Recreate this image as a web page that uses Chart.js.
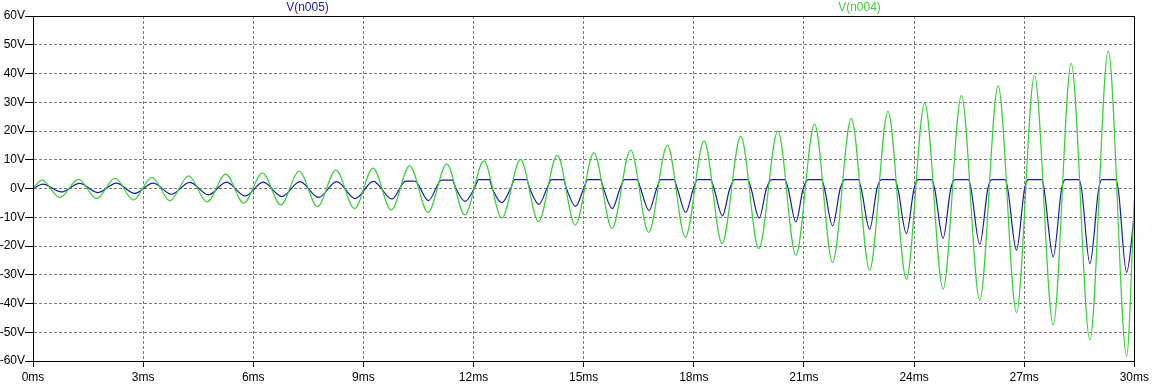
<!DOCTYPE html>
<html>
<head>
<meta charset="utf-8">
<script src="https://cdn.jsdelivr.net/npm/chart.js@4.4.1/dist/chart.umd.min.js"></script>
<style>
html,body{margin:0;padding:0;background:#fff;}
#wrap{width:1152px;height:385px;}
</style>
</head>
<body>
<div id="wrap"><canvas id="c" width="1152" height="385"></canvas></div>
<script>
// ---- tick labels ----
const xTicks = [0,3,6,9,12,15,18,21,24,27,30];          // ms
const yTicks = [-60,-50,-40,-30,-20,-10,0,10,20,30,40,50,60]; // V
const seriesNames = ["V(n005)", "V(n004)"];

// ---- V(n004) (green): start/end, positive peaks, negative troughs ----
const greenEndT = [0, 30];
const greenEndV = [0, -4];
const greenPeakT = [0.24,1.24,2.24,3.24,4.24,5.25,6.25,7.25,8.25,9.26,10.26,11.27,12.28,13.28,14.28,15.28,16.28,17.28,18.28,19.28,20.29,21.29,22.29,23.29,24.29,25.29,26.29,27.28,28.28,29.29];
const greenPeakV = [2.9,3.2,3.6,3.9,4.4,5.0,5.4,6.0,6.4,7.1,7.9,8.5,9.6,10.1,11.6,12.5,13.4,15.1,16.6,18.1,20.0,22.4,24.4,26.8,29.7,32.3,35.7,39.3,43.5,47.9];
const greenTroughT = [0.73,1.73,2.73,3.73,4.74,5.74,6.75,7.75,8.76,9.76,10.76,11.76,12.77,13.77,14.77,15.77,16.77,17.77,18.77,19.77,20.78,21.78,22.79,23.79,24.79,25.79,26.79,27.79,28.79,29.79];
const greenTroughV = [-3.1,-3.5,-4.0,-4.3,-4.7,-5.1,-5.7,-6.3,-7.0,-7.5,-8.3,-9.2,-10.3,-11.5,-12.7,-13.9,-15.3,-17.0,-19.1,-20.9,-23.2,-25.7,-28.4,-31.5,-35.0,-38.9,-43.1,-47.4,-52.7,-58.2];

// ---- V(n005) (blue): start/end, high points (flat tops as start/end pairs), troughs, 0 V crossings ----
const blueEndT = [0, 30];
const blueEndV = [0, -9];
const blueHighT = [0.27,1.27,2.27,3.27,4.27,5.27,6.27,7.27,8.27,9.27,10.15,10.40,11.13,11.42,12.14,12.43,13.12,13.45,14.12,14.45,15.11,15.46,16.11,16.46,17.10,17.46,18.10,18.46,19.11,19.47,20.12,20.48,21.12,21.48,22.12,22.48,23.12,23.48,24.12,24.48,25.12,25.48,26.12,26.48,27.12,27.48,28.12,28.48,29.12,29.48];
const blueHighV = [1.5,1.8,1.9,1.9,2.1,2.2,2.2,2.4,2.4,2.5,2.6,2.6,2.9,2.9,3.1,3.1,3.1,3.1,3.1,3.1,3.1,3.1,3.1,3.1,3.1,3.1,3.1,3.1,3.1,3.1,3.1,3.1,3.1,3.1,3.1,3.1,3.1,3.1,3.1,3.1,3.1,3.1,3.1,3.1,3.1,3.1,3.1,3.1,3.1,3.1];
const blueLowT = [0.77,1.77,2.77,3.77,4.78,5.78,6.78,7.78,8.78,9.78,10.77,11.77,12.77,13.78,14.78,15.78,16.78,17.78,18.78,19.78,20.78,21.78,22.79,23.79,24.79,25.79,26.79,27.79,28.79,29.79];
const blueLowV = [-1.2,-1.4,-1.7,-2.0,-2.2,-2.6,-2.8,-3.1,-3.5,-3.7,-4.2,-4.5,-4.9,-5.5,-6.2,-7.0,-7.7,-8.3,-9.5,-10.3,-11.6,-13.0,-14.2,-15.7,-17.3,-19.4,-21.4,-23.7,-26.1,-29.2];
const blueZeroT = [11.52,12.02,12.51,13.01,13.53,14.00,14.53,15.00,15.54,15.99,16.55,16.99,17.55,17.99,18.55,18.98,19.56,19.98,20.57,20.98,21.56,21.99,22.56,22.99,23.56,24.00,24.56,25.00,25.55,26.01,26.55,27.01,27.54,28.02,28.56,29.03,29.56];
const blueZeroV = [0,0,0,0,0,0,0,0,0,0,0,0,0,0,0,0,0,0,0,0,0,0,0,0,0,0,0,0,0,0,0,0,0,0,0,0,0];

function build(pairs){
  const pts = [];
  pairs.forEach(([ts, vs]) => ts.forEach((t,i) => pts.push({x:t, y:vs[i]})));
  pts.sort((p,q) => p.x - q.x);
  return pts;
}

const GREEN = '#38d038';
const BLUE = '#1a1aa4';
const FONT = {family: "'Liberation Sans', Arial, sans-serif", size: 12};

const traceLabels = {
  id: 'traceLabels',
  afterDraw(chart){
    const ctx = chart.ctx;
    ctx.save();
    ctx.font = "12px 'Liberation Sans', Arial, sans-serif";
    ctx.textAlign = 'center';
    ctx.textBaseline = 'middle';
    ctx.fillStyle = BLUE;
    ctx.fillText(seriesNames[0], 307.5, 8);
    ctx.fillStyle = GREEN;
    ctx.fillText(seriesNames[1], 859.5, 8);
    const a = chart.chartArea;
    ctx.strokeStyle = '#000';
    ctx.lineWidth = 1;
    ctx.strokeRect(Math.round(a.left)+0.5, Math.round(a.top)+0.5, Math.round(a.right)-Math.round(a.left), Math.round(a.bottom)-Math.round(a.top));
    ctx.restore();
  }
};

new Chart(document.getElementById('c'), {
  type: 'line',
  data: {
    datasets: [
      {label: seriesNames[1],
       data: build([[greenEndT, greenEndV],[greenPeakT, greenPeakV],[greenTroughT, greenTroughV]]),
       borderColor: GREEN, borderWidth: 1.2, pointRadius: 0, fill: false, cubicInterpolationMode: 'monotone'},
      {label: seriesNames[0],
       data: build([[blueEndT, blueEndV],[blueHighT, blueHighV],[blueLowT, blueLowV],[blueZeroT, blueZeroV]]),
       borderColor: BLUE, borderWidth: 1.2, pointRadius: 0, fill: false, cubicInterpolationMode: 'monotone'}
    ]
  },
  options: {
    responsive: false,
    animation: false,
    devicePixelRatio: 1,
    layout: {padding: {top: 16, right: 17, left: 0, bottom: 0}},
    plugins: {legend: {display: false}, tooltip: {enabled: false}},
    scales: {
      x: {
        type: 'linear', min: 0, max: 30,
        afterBuildTicks: s => { s.ticks = xTicks.map(v => ({value: v})); },
        afterFit: s => { s.height = 24; },
        ticks: {callback: v => v + 'ms', color: '#000', font: FONT, maxRotation: 0, padding: 3, autoSkip: false},
        grid: {color: '#7a7a7a', lineWidth: 1, tickLength: 6, tickColor: '#000'},
        border: {display: true, color: '#000', dash: [3,2]}
      },
      y: {
        type: 'linear', min: -60, max: 60,
        afterBuildTicks: s => { s.ticks = yTicks.map(v => ({value: v})); },
        afterFit: s => { s.width = 33; },
        ticks: {callback: v => v + 'V', color: '#000', font: FONT, padding: 0, autoSkip: false},
        grid: {color: '#7a7a7a', lineWidth: 1, tickLength: 8, tickColor: '#000'},
        border: {display: true, color: '#000', dash: [3,2]}
      }
    }
  },
  plugins: [traceLabels]
});
</script>
</body>
</html>
